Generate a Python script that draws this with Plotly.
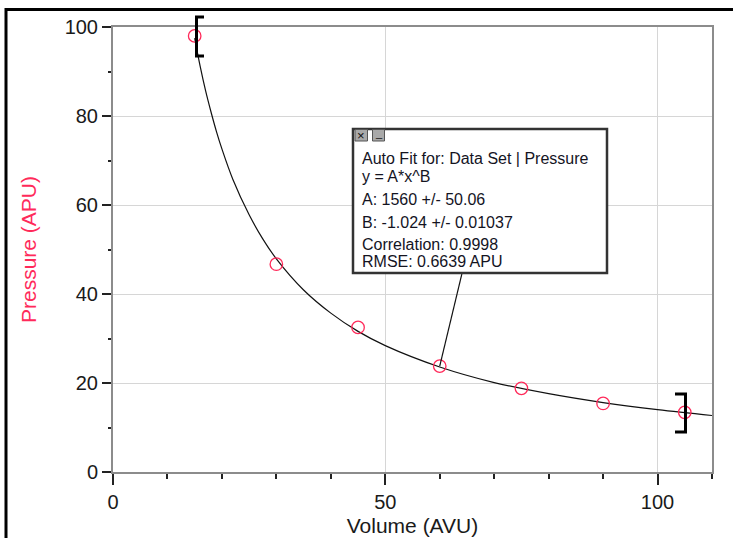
import plotly.graph_objects as go

# ---- data ----
volume = [15, 30, 45, 60, 75, 90, 105]
pressure = [98.0, 46.7, 32.5, 23.8, 18.8, 15.4, 13.4]

# fitted power curve y = A*x^B
fit_x = [15, 16, 17, 18, 19, 20, 22, 25, 27.5, 30, 35, 40, 45, 50, 60, 70, 80, 90, 100, 110]
fit_y = [97.5, 91.2, 85.7, 80.9, 76.5, 72.6, 65.8, 57.8, 52.4, 47.9, 40.9, 35.7, 31.6,
         28.4, 23.6, 20.1, 17.6, 15.6, 14.0, 12.7]

x_tick_vals = [0, 50, 100]
y_tick_vals = [0, 20, 40, 60, 80, 100]

fit_lines = [
    "Auto Fit for: Data Set | Pressure",
    "y = A*x^B",
    "A: 1560 +/- 50.06",
    "B: -1.024 +/- 0.01037",
    "Correlation: 0.9998",
    "RMSE: 0.6639 APU",
]

# ---- layout geometry (pixels) ----
W, H = 733, 538
ML, MR, MT, MB = 113, 21, 27, 66
PW, PH = W - ML - MR, H - MT - MB


def PX(X):
    return (X - ML) / PW


def PY(Y):
    return (H - MB - Y) / PH


RED = "#ff2a5a"
TXT = "#1a1a1a"
FONT = "Liberation Sans, Arial, sans-serif"

fig = go.Figure()
fig.add_trace(go.Scatter(x=fit_x, y=fit_y, mode="lines", line=dict(color="#111111", width=1.2, shape="spline"),
                         hoverinfo="skip", showlegend=False))
fig.add_trace(go.Scatter(x=volume, y=pressure, mode="markers",
                         marker=dict(symbol="circle-open", size=12.5, color=RED, line=dict(width=1.3, color=RED)),
                         showlegend=False))

shapes = []
# outer window frame
shapes.append(dict(type="line", xref="paper", yref="paper", x0=PX(6), x1=PX(6), y0=PY(8), y1=PY(540),
                   line=dict(color="black", width=3)))
shapes.append(dict(type="line", xref="paper", yref="paper", x0=PX(5), x1=PX(740), y0=PY(9.5), y1=PY(9.5),
                   line=dict(color="black", width=3)))
# fit range brackets
shapes.append(dict(type="path", xref="paper", yref="paper",
                   path=f"M {PX(204)},{PY(17)} L {PX(196.5)},{PY(17)} L {PX(196.5)},{PY(56)} L {PX(204)},{PY(56)}",
                   line=dict(color="black", width=3)))
shapes.append(dict(type="path", xref="paper", yref="paper",
                   path=f"M {PX(675)},{PY(394)} L {PX(685.5)},{PY(394)} L {PX(685.5)},{PY(432)} L {PX(675)},{PY(432)}",
                   line=dict(color="black", width=3)))
# leader line from fit box to the point
shapes.append(dict(type="line", xref="x", yref="y", x0=volume[3], y0=pressure[3], x1=64.1, y1=44.7,
                   line=dict(color="#111111", width=1.2)))
# fit box
shapes.append(dict(type="rect", xref="paper", yref="paper", x0=PX(353), x1=PX(607), y0=PY(273), y1=PY(129),
                   fillcolor="white", line=dict(color="#333333", width=2.5)))
# box buttons
shapes.append(dict(type="rect", xref="paper", yref="paper", x0=PX(355), x1=PX(367.5), y0=PY(141), y1=PY(129.5),
                   fillcolor="#a9a9a9", line=dict(color="#555555", width=1)))
shapes.append(dict(type="rect", xref="paper", yref="paper", x0=PX(372.5), x1=PX(384.5), y0=PY(141), y1=PY(129.5),
                   fillcolor="#a9a9a9", line=dict(color="#555555", width=1)))

annotations = []
line_y = [158, 176.5, 199, 222.5, 244, 261.5]
for txt, yy in zip(fit_lines, line_y):
    annotations.append(dict(xref="paper", yref="paper", x=PX(360), y=PY(yy), xanchor="left", yanchor="middle",
                            text=txt, showarrow=False, font=dict(family=FONT, size=16, color="#14141f")))
annotations.append(dict(xref="paper", yref="paper", x=PX(361.2), y=PY(135.5), xanchor="center", yanchor="middle",
                        text="×", showarrow=False, font=dict(family=FONT, size=13, color="#111111")))
annotations.append(dict(xref="paper", yref="paper", x=PX(378.5), y=PY(133), xanchor="center", yanchor="middle",
                        text="_", showarrow=False, font=dict(family=FONT, size=11, color="#111111")))

axis_common = dict(showline=True, linecolor="#8c8c8c", linewidth=2, mirror=True,
                   showgrid=True, gridcolor="#d6d6d6", gridwidth=1, zeroline=False,
                   ticks="outside", tickcolor="#222222", tickwidth=2,
                   tickfont=dict(family=FONT, size=20, color=TXT))

fig.update_layout(
    width=W, height=H,
    margin=dict(l=ML, r=MR, t=MT, b=MB, autoexpand=False),
    paper_bgcolor="white", plot_bgcolor="white",
    xaxis=dict(range=[0, 110], tickvals=x_tick_vals, ticklen=11,
               minor=dict(dtick=10, tick0=0, ticks="outside", ticklen=5, tickcolor="#222222", tickwidth=1.5,
                          showgrid=False),
               title=dict(text="Volume (AVU)", font=dict(family=FONT, size=21, color=TXT), standoff=6),
               **axis_common),
    yaxis=dict(range=[0, 100], tickvals=y_tick_vals, ticklen=9,
               minor=dict(dtick=10, tick0=0, ticks="outside", ticklen=3, tickcolor="#222222", tickwidth=1.5,
                          showgrid=False),
               title=dict(text="Pressure (APU)", font=dict(family=FONT, size=21, color=RED), standoff=22),
               **axis_common),
    shapes=shapes,
    annotations=annotations,
)

fig.write_html("out.html", config={"displayModeBar": False},
               post_script="document.body.style.margin='0';document.body.style.overflow='hidden';")
